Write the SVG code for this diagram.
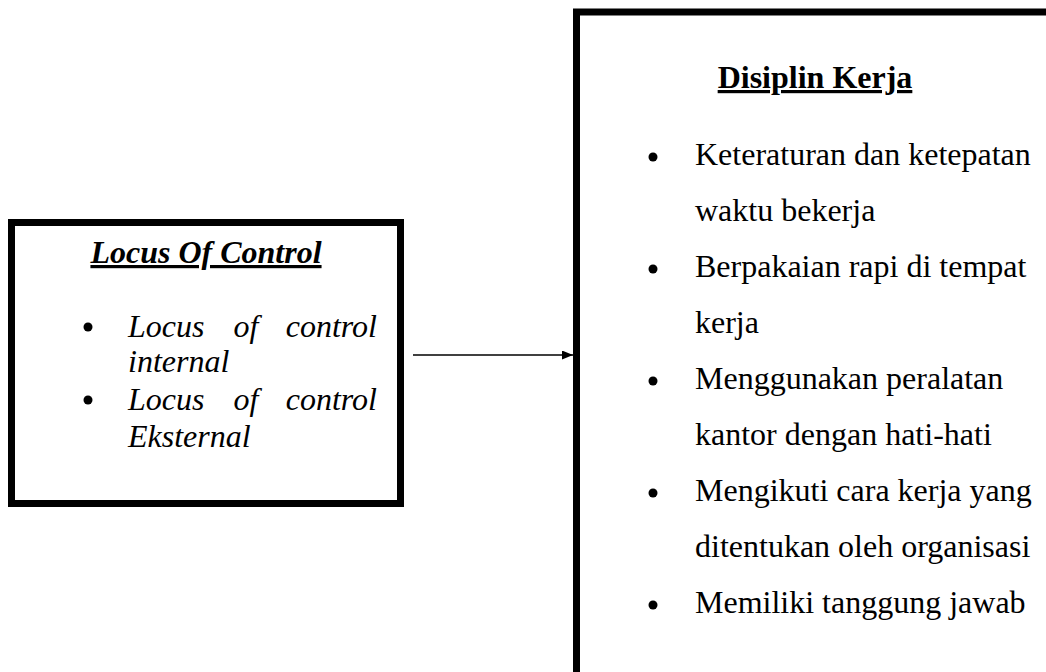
<svg xmlns="http://www.w3.org/2000/svg" width="1046" height="672" viewBox="0 0 1046 672">
<style>
.box{fill:#fff;stroke:#000;stroke-width:7}
.ti{font-style:italic}
.hd{font-weight:bold;text-decoration:underline}
.dot{fill:#000}
</style>
<defs>
<marker id="ah" markerWidth="11" markerHeight="9" refX="11" refY="4.5" orient="auto" markerUnits="userSpaceOnUse">
<path d="M0,0 L11,4.5 L0,9 Z" fill="#000"/>
</marker>
</defs>
<rect width="1046" height="672" fill="#fff"/>
<g id="node-locus" font-family="Liberation Serif, Times New Roman, serif" font-size="32" fill="#000">
<rect class="box" x="11.5" y="222.5" width="389" height="281"/>
<text class="ti hd" x="206" y="263" text-anchor="middle">Locus Of Control</text>
<circle class="dot" cx="88" cy="327" r="4.5"/>
<text class="ti" x="128" y="337">Locus</text>
<text class="ti" x="246" y="337" text-anchor="middle">of</text>
<text class="ti" x="377" y="337" text-anchor="end">control</text>
<text class="ti" x="128" y="372">internal</text>
<circle class="dot" cx="88" cy="400" r="4.5"/>
<text class="ti" x="128" y="410">Locus</text>
<text class="ti" x="246" y="410" text-anchor="middle">of</text>
<text class="ti" x="377" y="410" text-anchor="end">control</text>
<text class="ti" x="128" y="447">Eksternal</text>
</g>
<g id="node-disiplin" font-family="Liberation Serif, Times New Roman, serif" font-size="32" fill="#000">
<rect class="box" x="576.5" y="12" width="600" height="800"/>
<text class="hd" x="815" y="88" text-anchor="middle">Disiplin Kerja</text>
<circle class="dot" cx="653" cy="157" r="4.5"/>
<text x="695" y="165">Keteraturan dan ketepatan</text>
<text x="695" y="221">waktu bekerja</text>
<circle class="dot" cx="653" cy="269" r="4.5"/>
<text x="695" y="277">Berpakaian rapi di tempat</text>
<text x="695" y="333">kerja</text>
<circle class="dot" cx="653" cy="381" r="4.5"/>
<text x="695" y="389">Menggunakan peralatan</text>
<text x="695" y="445">kantor dengan hati-hati</text>
<circle class="dot" cx="653" cy="493" r="4.5"/>
<text x="695" y="501">Mengikuti cara kerja yang</text>
<text x="695" y="557">ditentukan oleh organisasi</text>
<circle class="dot" cx="653" cy="605" r="4.5"/>
<text x="695" y="613">Memiliki tanggung jawab</text>
</g>
<g id="connectors">
<line x1="413" y1="355" x2="573" y2="355" stroke="#000" stroke-width="1.5" marker-end="url(#ah)"/>
</g>
</svg>
